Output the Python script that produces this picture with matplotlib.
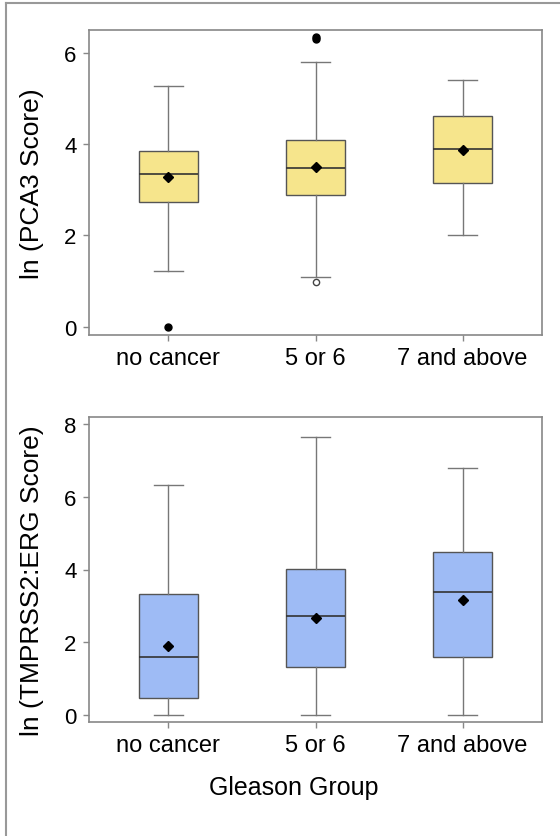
import matplotlib
matplotlib.use("Agg")
import matplotlib.pyplot as plt
from matplotlib.lines import Line2D

plt.rcParams["font.family"] = ["Liberation Sans", "DejaVu Sans"]

groups = ["no cancer", "5 or 6", "7 and above"]

# ln(PCA3 score) box statistics
pca3_whislo = [1.22, 1.10, 2.01]
pca3_q1 = [2.74, 2.89, 3.14]
pca3_med = [3.35, 3.47, 3.90]
pca3_q3 = [3.85, 4.08, 4.62]
pca3_whishi = [5.27, 5.80, 5.41]
pca3_mean = [3.27, 3.49, 3.87]
pca3_far_out = [[0.0], [6.30, 6.35], []]
pca3_near_out = [[], [0.99], []]

# ln(TMPRSS2:ERG score) box statistics
erg_whislo = [0.0, 0.0, 0.0]
erg_q1 = [0.47, 1.33, 1.59]
erg_med = [1.60, 2.72, 3.39]
erg_q3 = [3.33, 4.01, 4.49]
erg_whishi = [6.33, 7.63, 6.78]
erg_mean = [1.91, 2.66, 3.17]


def make_stats(lo, q1, med, q3, hi, mean):
    return [
        dict(whislo=a, q1=b, med=c, q3=d, whishi=e, mean=f, fliers=[], label=g)
        for a, b, c, d, e, f, g in zip(lo, q1, med, q3, hi, mean, groups)
    ]


def draw_boxes(ax, stats, color):
    ax.bxp(
        stats,
        positions=[1, 2, 3],
        widths=0.4,
        patch_artist=True,
        showmeans=True,
        showfliers=False,
        boxprops=dict(facecolor=color, edgecolor="#555555", linewidth=1.0),
        whiskerprops=dict(color="#777777", linewidth=1.0),
        capprops=dict(color="#777777", linewidth=1.0),
        capwidths=0.2,
        medianprops=dict(color="#333333", linewidth=1.2),
        meanprops=dict(marker="D", markerfacecolor="black", markeredgecolor="black", markersize=5),
    )


def style_axes(ax, ylim, yticks, ylabel, label_y):
    ax.set_xlim(0.46, 3.54)
    ax.set_ylim(*ylim)
    ax.set_yticks(yticks)
    ax.set_xticks([1, 2, 3])
    ax.set_xticklabels(groups)
    for sp in ax.spines.values():
        sp.set_color("#888888")
        sp.set_linewidth(1.2)
    ax.tick_params(axis="both", colors="#888888", length=4, width=1,
                   labelcolor="black", pad=5)
    ax.tick_params(axis="x", labelsize=17)
    ax.tick_params(axis="y", labelsize=16)
    ax.set_ylabel(ylabel, fontsize=19)
    ax.yaxis.set_label_coords(-0.10, label_y)


fig = plt.figure(figsize=(5.6, 8.37), dpi=100)
W, H = 560, 837

ax1 = fig.add_axes([89 / W, 1 - 336 / H, 453 / W, 305 / H])
draw_boxes(ax1, make_stats(pca3_whislo, pca3_q1, pca3_med, pca3_q3, pca3_whishi, pca3_mean), "#F6E58C")
for i, pts in enumerate(pca3_far_out):
    ax1.plot([i + 1] * len(pts), pts, "o", color="black", markersize=5, linestyle="none")
for i, pts in enumerate(pca3_near_out):
    ax1.plot([i + 1] * len(pts), pts, "o", markerfacecolor="white", markeredgecolor="#444444",
             markersize=4.5, markeredgewidth=1, linestyle="none")
style_axes(ax1, (-0.18, 6.5), [0, 2, 4, 6], "ln (PCA3 Score)", 0.5)

ax2 = fig.add_axes([89 / W, 1 - 723 / H, 453 / W, 305 / H])
draw_boxes(ax2, make_stats(erg_whislo, erg_q1, erg_med, erg_q3, erg_whishi, erg_mean), "#9EBBF5")
style_axes(ax2, (-0.19, 8.19), [0, 2, 4, 6, 8], "ln (TMPRSS2:ERG Score)", 0.465)

fig.text(294 / W, 1 - 788 / H, "Gleason Group", ha="center", va="center", fontsize=18)

# outer frame (top and left edges)
fig.add_artist(Line2D([6 / W, 1], [1 - 4 / H, 1 - 4 / H], transform=fig.transFigure,
                      color="#999999", linewidth=1.5))
fig.add_artist(Line2D([6 / W, 6 / W], [0, 1 - 4 / H], transform=fig.transFigure,
                      color="#999999", linewidth=1.5))

fig.savefig("out.png", dpi=100)
